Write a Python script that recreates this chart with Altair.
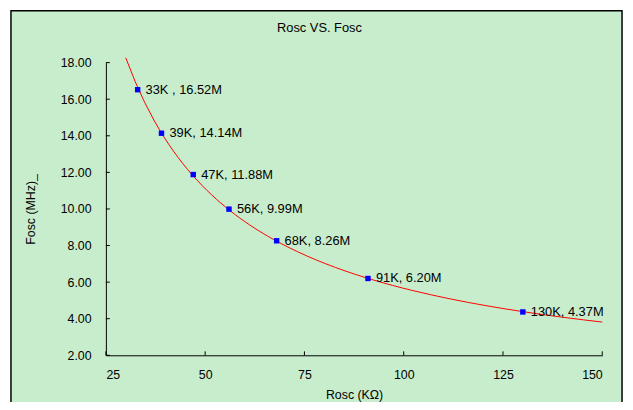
import altair as alt
import pandas as pd

# Data
rosc = [33, 39, 47, 56, 68, 91, 130]
fosc = [16.52, 14.14, 11.88, 9.99, 8.26, 6.20, 4.37]
point_labels = ["33K , 16.52M", "39K, 14.14M", "47K, 11.88M", "56K, 9.99M",
                "68K, 8.26M", "91K, 6.20M", "130K, 4.37M"]
x_ticks = [25, 50, 75, 100, 125, 150]
y_ticks = [2, 4, 6, 8, 10, 12, 14, 16, 18]
chart_title = ["Rosc VS. Fosc"]

df = pd.DataFrame({"R": rosc, "F": fosc, "label": point_labels})
xt = pd.DataFrame({"t": x_ticks})
yt = pd.DataFrame({"t": y_ticks})
bg = pd.DataFrame({"a": [0]})
tt = pd.DataFrame({"title": chart_title})

FONT = "Liberation Sans"
GREEN = "#C8EDCC"
W, H = 502, 296

xscale = alt.Scale(domain=[25, 150], nice=False, zero=False)
yscale = alt.Scale(domain=[2, 18], nice=False, zero=False)

xaxis = alt.Axis(values=x_ticks, format="d", ticks=False, tickSize=0, grid=False,
                 labelPadding=13, domainColor="black", labelColor="black",
                 labelFontSize=12.5, labelFont=FONT, labelOverlap=False,
                 title="Rosc (KΩ)",
                 titleFont=FONT, titleFontSize=12.5, titleFontWeight="normal",
                 titleColor="black", titlePadding=8, zindex=2)
yaxis = alt.Axis(values=y_ticks, format=".2f", ticks=False, tickSize=0, grid=False,
                 labelPadding=15, domainColor="black", labelColor="black",
                 labelFontSize=12.5, labelFont=FONT, labelOverlap=False,
                 title="Fosc (MHz)_",
                 titleFont=FONT, titleFontSize=12.5, titleFontWeight="normal",
                 titleColor="black", titlePadding=23, zindex=2)

X = dict(scale=xscale, axis=xaxis)
Y = dict(scale=yscale, axis=yaxis)

background = alt.Chart(bg).mark_rect(fill=GREEN, stroke="black", strokeWidth=1.5).encode(
    x=alt.value(-96), x2=alt.value(522), y=alt.value(-52.5), y2=alt.value(360)
)

title = alt.Chart(tt).mark_text(font=FONT, fontSize=13, color="black",
                                align="center", baseline="middle").encode(
    x=alt.value(216), y=alt.value(-35), text="title:N"
)

base = alt.Chart(df)

line = base.mark_line(color="#FF0000", strokeWidth=1).transform_regression(
    "R", "F", method="pow", extent=[30, 150], params=False
).encode(
    x=alt.X("R:Q", **X),
    y=alt.Y("F:Q", **Y),
)

points = base.mark_square(color="#0000FF", size=30, opacity=1).encode(
    x=alt.X("R:Q", **X),
    y=alt.Y("F:Q", **Y),
)

labels = base.mark_text(align="left", baseline="middle", dx=8, dy=0,
                        font=FONT, fontSize=13, color="black").encode(
    x=alt.X("R:Q", **X),
    y=alt.Y("F:Q", **Y),
    text="label:N",
)

yticks = alt.Chart(yt).mark_rule(color="black", strokeWidth=1).encode(
    y=alt.Y("t:Q", **Y), x=alt.value(0), x2=alt.value(4)
)
xticks = alt.Chart(xt).mark_rule(color="black", strokeWidth=1).encode(
    x=alt.X("t:Q", **X), y=alt.value(H), y2=alt.value(H - 4)
)

chart = alt.layer(background, title, yticks, xticks, line, points, labels).properties(
    width=W, height=H,
    padding={"left": 99, "top": 53, "right": 23, "bottom": 45},
    autosize=alt.AutoSizeParams(type="none"),
).configure(background="white").configure_view(stroke=None)

chart.save("out.html", embed_options={"renderer": "svg", "actions": False})
